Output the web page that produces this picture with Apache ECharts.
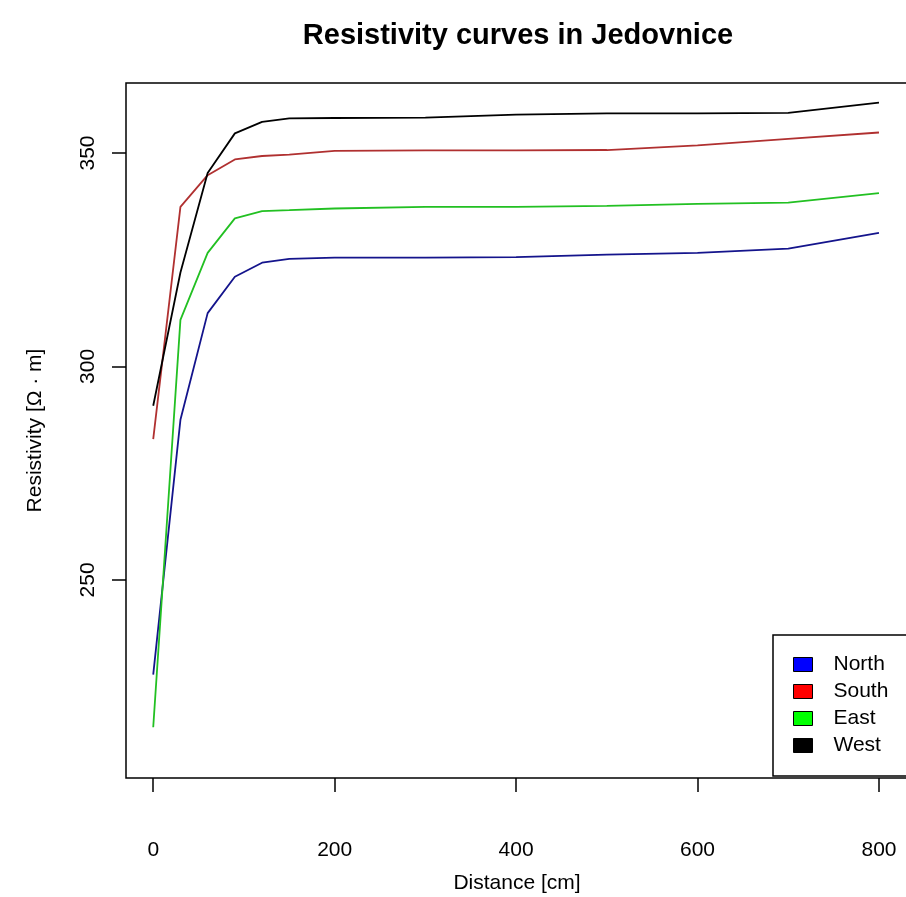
<!DOCTYPE html>
<html>
<head>
<meta charset="utf-8">
<title>Resistivity curves in Jedovnice</title>
<script src="https://cdn.jsdelivr.net/npm/echarts@6/dist/echarts.min.js"></script>
<style>
  html, body { margin: 0; padding: 0; background: #fff; }
  #chart { width: 906px; height: 897px; }
</style>
</head>
<body>
<div id="chart"></div>
<script>
// distance along the profile [cm]
var distance = [0, 30, 60, 90, 120, 150, 200, 300, 400, 500, 600, 700, 800];
// resistivity [Ohm m] per direction
var north = [227.8, 287.5, 312.5, 321.0, 324.3, 325.2, 325.5, 325.5, 325.6, 326.2, 326.6, 327.6, 331.3];
var south = [283.0, 337.4, 344.8, 348.5, 349.3, 349.6, 350.5, 350.6, 350.6, 350.7, 351.8, 353.3, 354.8];
var east  = [215.5, 310.9, 326.6, 334.7, 336.4, 336.6, 337.0, 337.4, 337.4, 337.6, 338.1, 338.4, 340.6];
var west  = [290.8, 322.0, 345.3, 354.6, 357.3, 358.1, 358.2, 358.3, 359.0, 359.3, 359.3, 359.4, 361.8];

var xTicks = [0, 200, 400, 600, 800];
var yTicks = [250, 300, 350];

var names = ['North', 'South', 'East', 'West'];
var legendColors = ['#0000ff', '#ff0000', '#00ff00', '#000000'];
var lineColors = ['#14148c', '#b03030', '#22c022', '#000000'];
var values = [north, south, east, west];

function pairs(ys) {
  return distance.map(function (d, i) { return [d, ys[i]]; });
}

var font = 'Liberation Sans, Arial, sans-serif';

var chart = echarts.init(document.getElementById('chart'));
chart.setOption({
  backgroundColor: '#fff',
  animation: false,
  title: {
    text: 'Resistivity curves in Jedovnice',
    left: 513,
    top: 16,
    textAlign: 'center',
    textStyle: { fontFamily: font, fontSize: 29, fontWeight: 'bold', color: '#000' }
  },
  grid: {
    left: 126, top: 83, width: 782, height: 695,
    outerBoundsMode: 'none',
    show: true, borderColor: '#000', borderWidth: 1.5, backgroundColor: 'transparent'
  },
  legend: {
    orient: 'vertical',
    left: 773, top: 635,
    padding: [19, 40, 20, 20],
    itemGap: 6,
    itemWidth: 19, itemHeight: 14,
    icon: 'rect',
    borderColor: '#000', borderWidth: 1.5,
    backgroundColor: '#fff',
    itemStyle: { borderColor: '#000', borderWidth: 1 },
    textStyle: { fontFamily: font, fontSize: 21, color: '#000', padding: [0, 0, 0, 16] },
    data: names
  },
  xAxis: {
    type: 'value',
    min: -30, max: 832,
    name: 'Distance [cm]',
    nameLocation: 'middle',
    nameGap: 95,
    nameTextStyle: { fontFamily: font, fontSize: 21, color: '#000' },
    axisLine: { show: false, onZero: false },
    axisTick: { show: true, length: 14, customValues: xTicks, lineStyle: { color: '#000', width: 1.5 } },
    axisLabel: { customValues: xTicks, margin: 62, fontFamily: font, fontSize: 21, color: '#000' },
    splitLine: { show: false }
  },
  yAxis: {
    type: 'value',
    min: 203.6, max: 366.4,
    name: 'Resistivity [\u03A9 \u00B7 m]',
    nameLocation: 'middle',
    nameRotate: 90,
    nameGap: 80,
    nameTextStyle: { fontFamily: font, fontSize: 21, color: '#000' },
    axisLine: { show: false, onZero: false },
    axisTick: { show: true, length: 14, customValues: yTicks, lineStyle: { color: '#000', width: 1.5 } },
    axisLabel: { customValues: yTicks, rotate: 90, margin: 27, fontFamily: font, fontSize: 21, color: '#000' },
    splitLine: { show: false }
  },
  series: names.map(function (n, i) {
    return {
      name: n,
      type: 'line',
      data: pairs(values[i]),
      showSymbol: false,
      itemStyle: { color: legendColors[i] },
      lineStyle: { color: lineColors[i], width: 1.8 }
    };
  })
});
</script>
</body>
</html>
